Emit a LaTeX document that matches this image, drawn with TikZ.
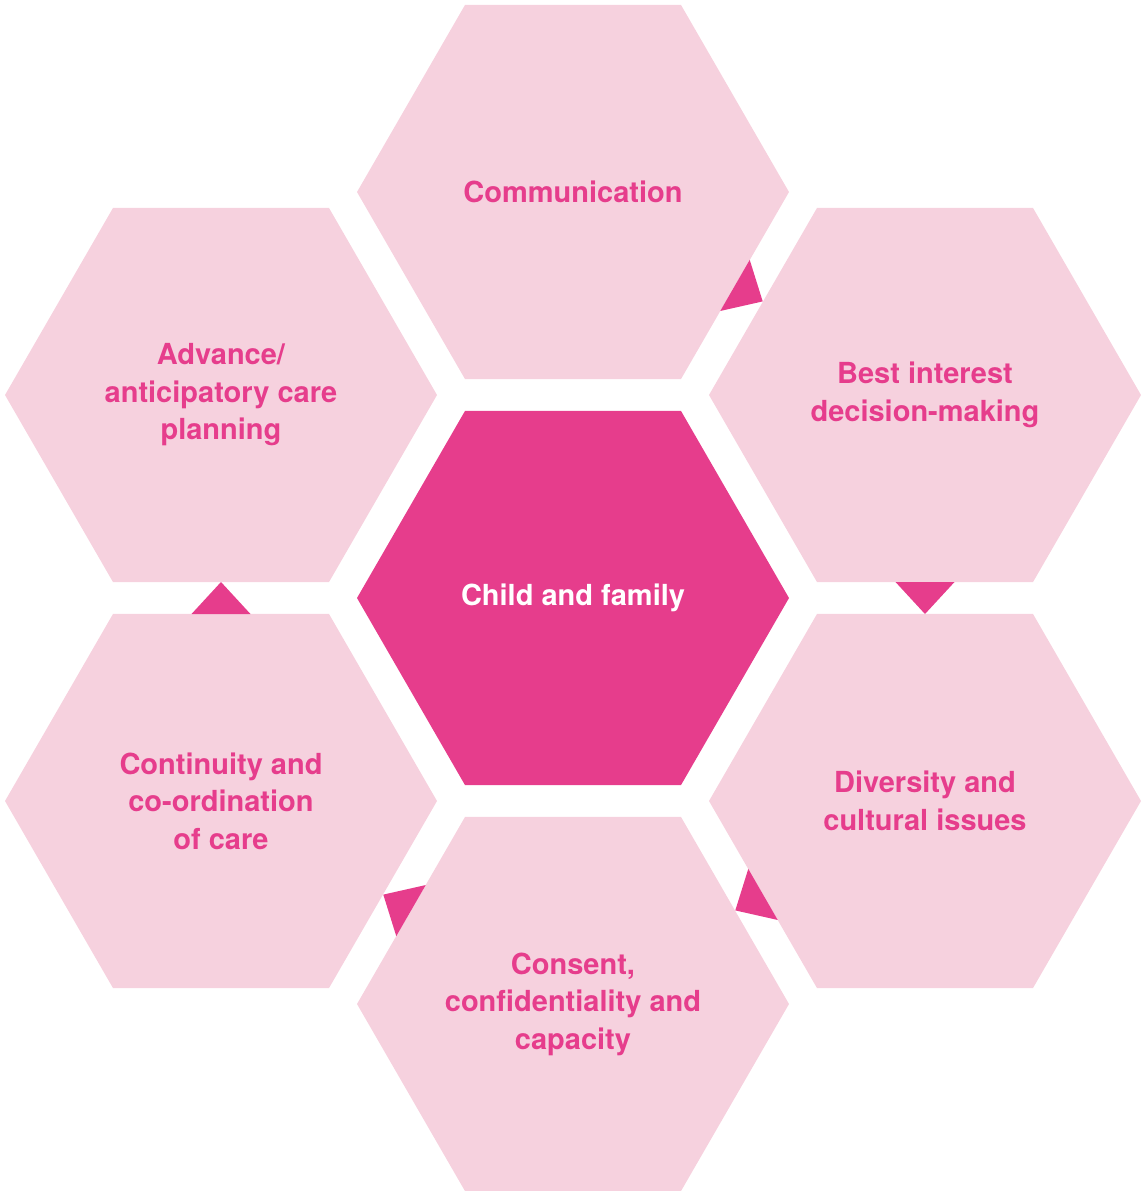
\documentclass[tikz,border=0pt]{standalone}
\usepackage{fontspec}
\setmainfont{TeX Gyre Heros}
\usetikzlibrary{shapes.geometric,calc}

\definecolor{hexpale}{RGB}{246,209,222}
\definecolor{hexpink}{RGB}{230,61,140}

\tikzset{
  hex/.style={regular polygon, regular polygon sides=6, minimum size=216pt,
    inner sep=0pt, outer sep=0pt, fill=hexpale, text=hexpink, align=center,
    font=\fontsize{14.5}{18.75}\selectfont\bfseries},
  hub/.style={hex, fill=hexpink, text=white},
  pointer/.style={fill=hexpink}
}

% triangle sitting on the side of #1 and pointing at #2
\newcommand{\hexarrow}[2]{%
  \fill[pointer] ($(#1)!93.5pt!(#2)!14.75pt!90:(#2)$)
    -- ($(#1)!93.5pt!(#2)!14.75pt!-90:(#2)$)
    -- ($(#1)!109.5pt!(#2)$) -- cycle;}

\begin{document}
\begin{tikzpicture}[x=0.5pt,y=-0.5pt]
\useasboundingbox (0,0) rectangle (1142,1191);

\node[hub] (family) at (573,598) {Child and family};
\node[hex] (comm) at (573,192) {Communication};
\node[hex] (best) at (925,395) {Best interest\\decision-making};
\node[hex] (diversity) at (925,801) {Diversity and\\cultural issues};
\node[hex] (consent) at (573,1004) {Consent,\\confidentiality and\\capacity};
\node[hex] (continuity) at (221,801) {Continuity and\\co-ordination\\of care};
\node[hex] (advance) at (221,395) {Advance/\\anticipatory care\\planning};

\hexarrow{comm}{best}
\hexarrow{best}{diversity}
\hexarrow{diversity}{consent}
\hexarrow{consent}{continuity}
\hexarrow{continuity}{advance}
\end{tikzpicture}
\end{document}
